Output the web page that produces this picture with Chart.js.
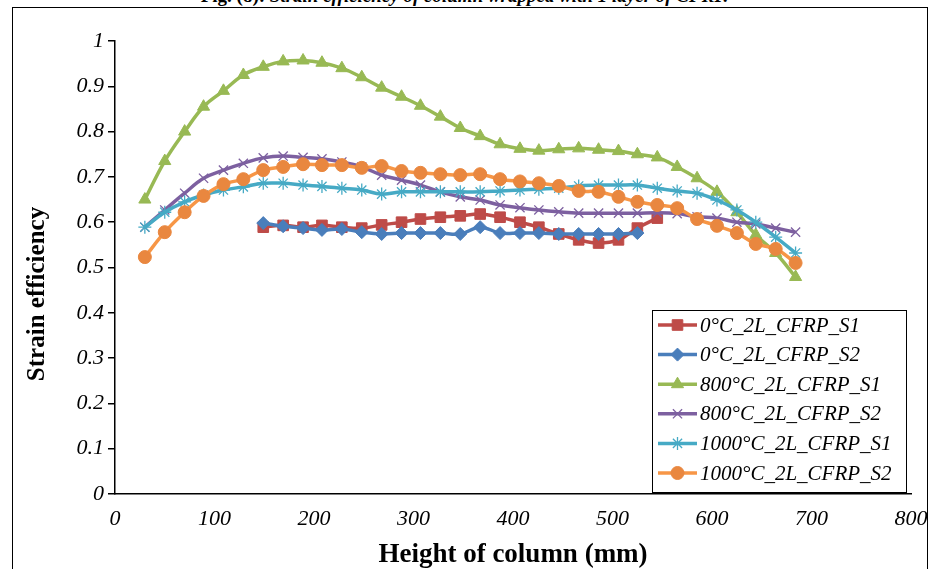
<!DOCTYPE html>
<html>
<head>
<meta charset="utf-8">
<script src="https://cdn.jsdelivr.net/npm/chart.js@4.4.1/dist/chart.umd.min.js"></script>
<style>
  html, body { margin: 0; padding: 0; background: #fff; overflow: hidden; }
  #wrap { position: relative; width: 929px; height: 569px; }
  #frame { position: absolute; left: 12px; top: 7px; width: 914px; height: 600px;
           border-left: 1.5px solid #000; border-top: 1.5px solid #000; border-right: 1.5px solid #000; }
  #caption { position: absolute; left: 0; width: 929px; top: -15px; text-align: center;
             font: bold 19px 'Liberation Serif', 'Times New Roman', serif; color: #000; white-space: nowrap; }
  #caption i { font-weight: bold; }
  #myChart { position: absolute; left: 0; top: 0; }
</style>
</head>
<body>
<div id="wrap">
  <div id="caption">Fig. (8): <i>Strain efficiency of column wrapped with 1 layer of CFRP.</i></div>
  <div id="frame"></div>
  <canvas id="myChart" width="929" height="569"></canvas>
</div>
<script>
// heights (mm) where strain gauges were read (~19.8 mm apart)
var heightsLong = [30, 50, 70, 89, 109, 129, 149, 169, 189, 208, 228, 248, 268, 288, 307, 327, 347,
                   367, 387, 407, 426, 446, 466, 486, 506, 525, 545, 565, 585, 605, 625, 644, 664, 684];
var heights0S1 = [149, 169, 189, 208, 228, 248, 268, 288, 307, 327, 347, 367, 387, 407, 426, 446, 466, 486, 506, 525, 545];
var heights0S2 = [149, 169, 189, 208, 228, 248, 268, 288, 307, 327, 347, 367, 387, 407, 426, 446, 466, 486, 506, 525];

// strain efficiency values
var eff0S1 = [0.589, 0.593, 0.589, 0.593, 0.589, 0.587, 0.594, 0.600, 0.607, 0.611, 0.614, 0.618, 0.611, 0.600,
              0.589, 0.574, 0.561, 0.554, 0.561, 0.587, 0.609];
var eff0S2 = [0.598, 0.591, 0.587, 0.583, 0.585, 0.578, 0.574, 0.576, 0.576, 0.576, 0.574, 0.589, 0.576, 0.576,
              0.576, 0.574, 0.574, 0.574, 0.574, 0.576];
var eff800S1 = [0.650, 0.735, 0.800, 0.855, 0.890, 0.925, 0.943, 0.955, 0.957, 0.952, 0.940, 0.920, 0.897, 0.877,
                0.857, 0.833, 0.808, 0.790, 0.772, 0.762, 0.758, 0.761, 0.763, 0.760, 0.757, 0.750, 0.743, 0.722,
                0.697, 0.667, 0.622, 0.572, 0.532, 0.479];
var eff800S2 = [0.589, 0.627, 0.664, 0.697, 0.715, 0.730, 0.742, 0.746, 0.743, 0.740, 0.733, 0.722, 0.704, 0.693,
                0.682, 0.667, 0.656, 0.649, 0.638, 0.632, 0.627, 0.623, 0.620, 0.620, 0.620, 0.620, 0.621, 0.619,
                0.612, 0.609, 0.600, 0.596, 0.587, 0.578];
var eff1000S1 = [0.589, 0.622, 0.645, 0.660, 0.671, 0.678, 0.686, 0.686, 0.682, 0.679, 0.675, 0.671, 0.662, 0.667,
                 0.667, 0.667, 0.667, 0.667, 0.669, 0.671, 0.673, 0.675, 0.680, 0.682, 0.682, 0.682, 0.675, 0.669,
                 0.664, 0.649, 0.627, 0.600, 0.567, 0.532];
var eff1000S2 = [0.523, 0.578, 0.622, 0.658, 0.684, 0.695, 0.715, 0.722, 0.728, 0.726, 0.726, 0.720, 0.724, 0.713,
                 0.709, 0.706, 0.704, 0.706, 0.695, 0.690, 0.686, 0.680, 0.669, 0.667, 0.656, 0.645, 0.638, 0.631,
                 0.607, 0.592, 0.576, 0.552, 0.541, 0.510];

var seriesNames = ['0°C_2L_CFRP_S1', '0°C_2L_CFRP_S2', '800°C_2L_CFRP_S1',
                   '800°C_2L_CFRP_S2', '1000°C_2L_CFRP_S1', '1000°C_2L_CFRP_S2'];

var serif = "'Liberation Serif', 'Times New Roman', serif";

function pts(xs, ys) {
  return xs.map(function (x, i) { return {x: x, y: ys[i]}; });
}

function series(i, xs, ys, color, style, radius, bw) {
  return {
    label: seriesNames[i],
    data: pts(xs, ys),
    borderColor: color,
    backgroundColor: color,
    pointBorderColor: color,
    pointBackgroundColor: color,
    pointStyle: style,
    pointRadius: radius,
    pointBorderWidth: bw,
    borderWidth: 3.5,
    tension: 0.4,
    order: 5 - i   // later series on top, like the spreadsheet
  };
}

var datasets = [
  series(0, heights0S1, eff0S1, '#BE4B48', 'rect', 7.5, 1),
  series(1, heights0S2, eff0S2, '#4A7EBB', 'rectRot', 6.5, 1),
  series(2, heightsLong, eff800S1, '#98B954', 'triangle', 7, 1),
  series(3, heightsLong, eff800S2, '#7D60A0', 'crossRot', 6.5, 1.3),
  series(4, heightsLong, eff1000S1, '#46AAC5', 'star', 6.5, 1.3),
  series(5, heightsLong, eff1000S2, '#F59D56', 'circle', 6.5, 1)
];
datasets[5].borderColor = '#F79646';
datasets[5].pointBackgroundColor = '#E9873F';
datasets[5].pointBorderColor = '#E9873F';

// legend box + y title drawn by hand, like the original figure
const boxLegendPlugin = {
  id: 'boxLegend',
  afterDraw(chart) {
    const ctx = chart.ctx;
    const bx = 652.5, by = 310.5, bw = 254, bh = 182;
    ctx.save();
    ctx.fillStyle = '#fff';
    ctx.fillRect(bx, by, bw, bh);
    ctx.strokeStyle = '#000';
    ctx.lineWidth = 1;
    ctx.strokeRect(bx, by, bw, bh);
    chart.data.datasets.forEach(function (ds, i) {
      const y = 325 + i * 29.6;
      ctx.strokeStyle = ds.borderColor;
      ctx.lineWidth = 3.5;
      ctx.beginPath();
      ctx.moveTo(658, y);
      ctx.lineTo(697, y);
      ctx.stroke();
      ctx.fillStyle = ds.pointBackgroundColor;
      ctx.strokeStyle = ds.pointBorderColor;
      ctx.lineWidth = ds.pointBorderWidth;
      Chart.helpers.drawPoint(ctx, {pointStyle: ds.pointStyle, radius: ds.pointRadius, rotation: 0,
                                    borderWidth: ds.pointBorderWidth}, 677.5, y);
      ctx.fillStyle = '#000';
      ctx.font = 'italic 21px ' + serif;
      ctx.textBaseline = 'middle';
      ctx.textAlign = 'left';
      ctx.fillText(ds.label, 700, y + 1);
    });

    // y axis title (sits lower than the axis centre in the original)
    ctx.translate(38, 294);
    ctx.rotate(-Math.PI / 2);
    ctx.font = 'bold 25px ' + serif;
    ctx.fillStyle = '#000';
    ctx.textAlign = 'center';
    ctx.textBaseline = 'middle';
    ctx.fillText('Strain efficiency', 0, 0);
    ctx.restore();
  }
};

const config = {
  type: 'line',
  data: { datasets: datasets },
  options: {
    responsive: false,
    animation: false,
    devicePixelRatio: 1,
    layout: { padding: { left: 0, top: 41, right: 18, bottom: 0 } },
    plugins: {
      legend: { display: false },
      tooltip: { enabled: false }
    },
    scales: {
      x: {
        type: 'linear',
        min: 0,
        max: 800,
        ticks: { stepSize: 100, color: '#000', padding: 12, maxRotation: 0,
                 font: { family: serif, size: 22, style: 'italic' } },
        grid: { display: false, drawTicks: false },
        border: { display: true, color: '#000', width: 1.5 },
        title: { display: true, text: 'Height of column (mm)', color: '#000',
                 font: { family: serif, size: 27, weight: 'bold', lineHeight: 1 }, padding: { top: 1, bottom: 0 } },
        afterFit: function (scale) {
          scale.height = 75;
          scale.paddingLeft = 0;   // let the plot run right up to the 800 label
          scale.paddingRight = 0;
        }
      },
      y: {
        min: 0,
        max: 1,
        ticks: { stepSize: 0.1, color: '#000', padding: 4,
                 font: { family: serif, size: 22, style: 'italic' },
                 callback: function (v) { return String(Math.round(v * 10) / 10); } },
        grid: { display: true, drawOnChartArea: false, drawTicks: true, tickLength: 7, color: '#000', lineWidth: 1.5 },
        border: { display: true, color: '#000', width: 1.5 },
        title: { display: false },
        afterFit: function (scale) { scale.width = 115; }
      }
    }
  },
  plugins: [boxLegendPlugin]
};

const myChart = new Chart(document.getElementById('myChart'), config);
</script>
</body>
</html>
